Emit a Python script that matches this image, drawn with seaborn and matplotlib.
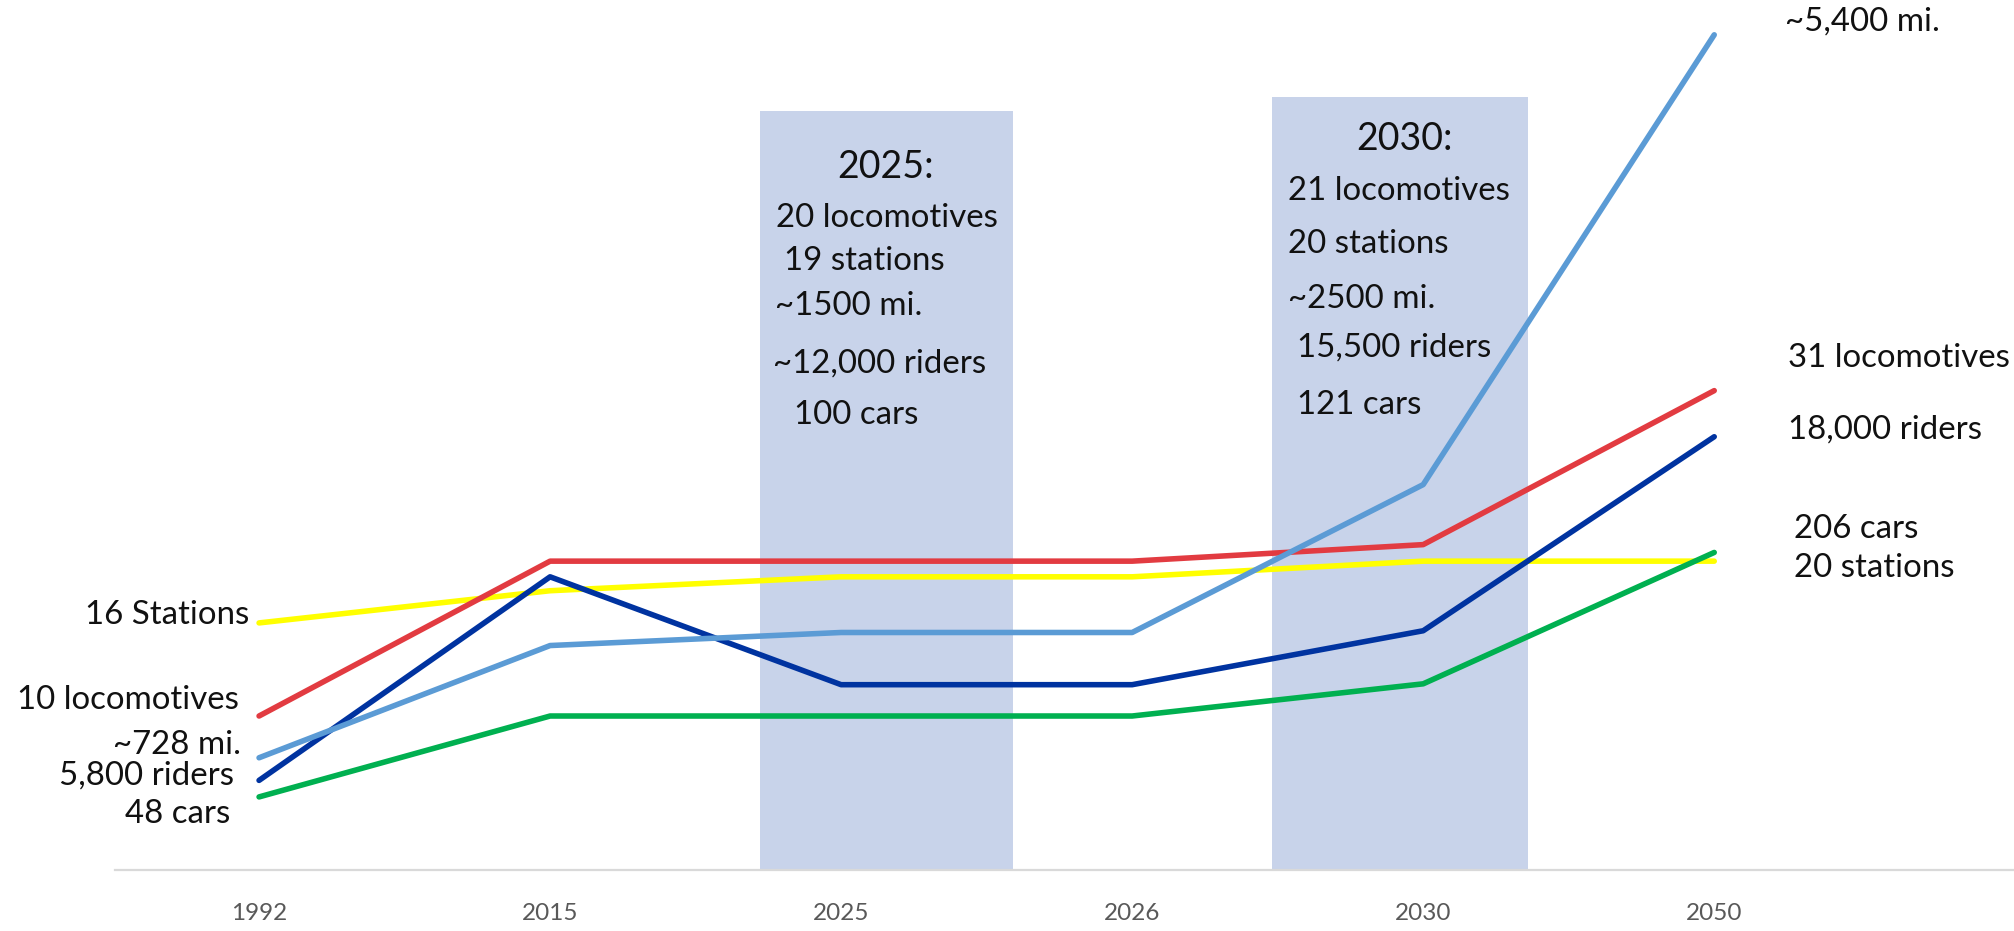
import matplotlib
matplotlib.use("Agg")
import matplotlib.pyplot as plt
import seaborn as sns
import pandas as pd

years = ["1992", "2015", "2025", "2026", "2030", "2050"]
stations = [28.4, 32.1, 33.7, 33.7, 35.5, 35.5]
locomotives = [17.7, 35.5, 35.5, 35.5, 37.4, 55.1]
riders = [10.3, 33.7, 21.3, 21.3, 27.5, 49.8]
miles = [12.9, 25.8, 27.3, 27.3, 44.3, 96.0]
cars = [8.4, 17.7, 17.7, 17.7, 21.4, 36.5]

series_names = ["stations", "locomotives", "riders", "miles", "cars"]
series_values = [stations, locomotives, riders, miles, cars]
colors = {"stations": "#FFFF00", "locomotives": "#E23B41", "riders": "#0033A0",
          "miles": "#5B9BD5", "cars": "#00B050"}

rows = []
for name, vals in zip(series_names, series_values):
    for i, v in enumerate(vals):
        rows.append({"x": i, "value": v, "series": name})
df = pd.DataFrame(rows)

sns.set_theme(style="white")
plt.rcParams['font.family'] = ['Lato', 'DejaVu Sans']

W, H = 2014, 931
fig = plt.figure(figsize=(W / 100, H / 100), dpi=100)
ax = fig.add_axes([115 / W, 61 / H, 1 - 115 / W, 1 - 61 / H])

# highlight boxes
ax.axvspan(1.72, 2.59, ymin=0, ymax=0.872, color="#C8D3EA", lw=0, zorder=0)
ax.axvspan(3.48, 4.36, ymin=0, ymax=0.889, color="#C8D3EA", lw=0, zorder=0)

sns.lineplot(data=df, x="x", y="value", hue="series", palette=colors,
             hue_order=series_names, sort=False, lw=4.0, ax=ax, legend=False,
             zorder=3)
for ln in ax.lines:
    ln.set_solid_capstyle("round")

ax.set_xlim(-0.495, 6.03)
ax.set_ylim(0, 100)
ax.set_xticks(range(len(years)))
ax.set_xticklabels(years, color="#595959", fontsize=17.5)
ax.tick_params(axis="x", length=0, pad=24)
ax.set_yticks([])
ax.set_xlabel("")
ax.set_ylabel("")
for s in ["top", "left", "right"]:
    ax.spines[s].set_visible(False)
ax.spines["bottom"].set_color("#D9D9D9")
ax.spines["bottom"].set_linewidth(1.6)

def ftext(px, py, s, ha="left", size=23.8, **kw):
    fig.text(px / W, 1 - py / H, s, ha=ha, va="center", fontsize=size,
             color="#111111", **kw)

# left labels
ftext(249, 615, "16 Stations", ha="right")
ftext(239, 700, "10 locomotives", ha="right")
ftext(241, 745, "~728 mi.", ha="right")
ftext(234, 776, "5,800 riders", ha="right")
ftext(230, 814, "48 cars", ha="right")

# right labels
ftext(1785, 22, "~5,400 mi.")
ftext(1788, 358, "31 locomotives")
ftext(1788, 430, "18,000 riders")
ftext(1794, 529, "206 cars")
ftext(1794, 568, "20 stations")

# box 1
ftext(886, 167, "2025:", ha="center", size=27)
ftext(776, 218, "20 locomotives")
ftext(784, 261, "19 stations")
ftext(775, 306, "~1500 mi.")
ftext(773, 364, "~12,000 riders")
ftext(794, 415, "100 cars")

# box 2
ftext(1405, 139, "2030:", ha="center", size=27)
ftext(1288, 191, "21 locomotives")
ftext(1288, 244, "20 stations")
ftext(1288, 299, "~2500 mi.")
ftext(1297, 348, "15,500 riders")
ftext(1297, 405, "121 cars")

fig.savefig("out.png", dpi=100)
